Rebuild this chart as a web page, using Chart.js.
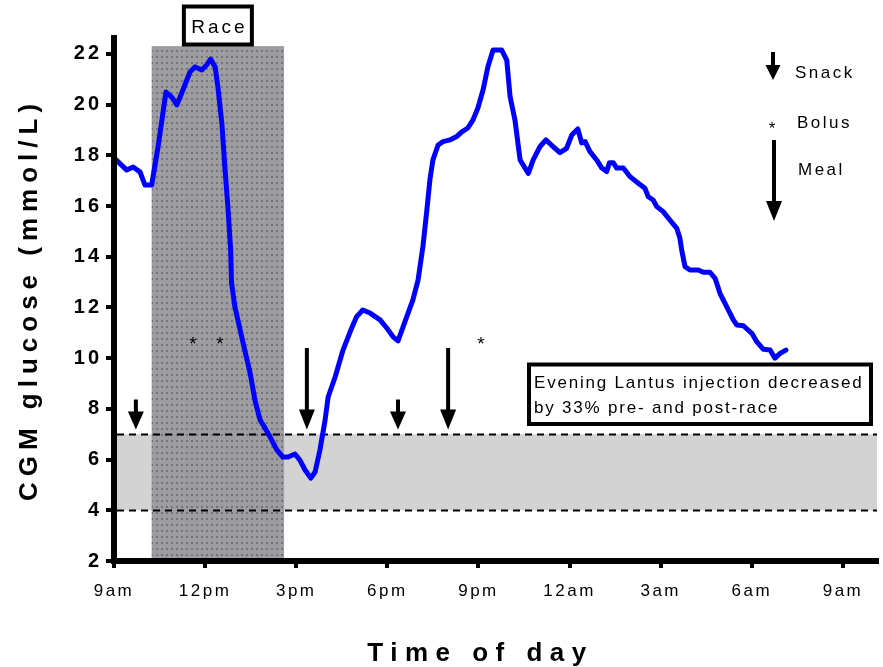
<!DOCTYPE html>
<html><head><meta charset="utf-8">
<script src="https://cdn.jsdelivr.net/npm/chart.js@4"></script>
<style>html,body{margin:0;padding:0;background:#fff}#wrap{width:883px;height:667px}</style>
</head><body><div id="wrap"><canvas id="c" width="883" height="667"></canvas></div>
<script>
// hours after 9am
const hours = [0,0.42,0.63,0.86,1.02,1.24,1.45,1.71,1.90,2.07,2.27,2.50,2.67,2.89,3.05,3.18,3.33,3.42,3.55,3.65,3.75,3.84,3.87,3.98,4.25,4.48,4.64,4.81,4.97,5.14,5.36,5.56,5.73,5.96,6.12,6.29,6.48,6.62,6.78,6.95,7.05,7.28,7.54,7.77,7.99,8.19,8.43,8.76,8.98,9.19,9.35,9.64,9.84,10.01,10.17,10.29,10.40,10.50,10.67,10.83,11.06,11.28,11.45,11.65,11.82,11.98,12.15,12.31,12.48,12.76,12.93,13.04,13.20,13.37,13.47,13.64,13.80,14.02,14.22,14.46,14.68,14.90,15.07,15.27,15.40,15.51,15.67,15.89,16.06,16.22,16.31,16.44,16.55,16.77,16.99,17.26,17.48,17.59,17.75,17.87,18.08,18.30,18.53,18.63,18.69,18.80,18.96,19.24,19.40,19.62,19.79,19.95,20.17,20.39,20.50,20.72,21.00,21.16,21.38,21.60,21.76,21.93,22.12];
// CGM glucose (mmol/L)
const glucose = [17.9,17.42,17.54,17.34,16.83,16.83,18.33,20.5,20.3,19.99,20.58,21.29,21.49,21.37,21.57,21.8,21.49,20.7,19.28,17.54,15.96,14.27,12.97,12.03,10.6,9.42,8.35,7.56,7.25,6.89,6.38,6.1,6.1,6.22,5.98,5.59,5.27,5.51,6.38,7.56,8.47,9.26,10.32,11.03,11.64,11.9,11.78,11.51,11.19,10.84,10.68,11.64,12.3,13.08,14.4,15.73,17.03,17.82,18.41,18.54,18.61,18.74,18.93,19.08,19.4,19.87,20.58,21.5,22.16,22.16,21.76,20.32,19.4,17.82,17.62,17.29,17.82,18.34,18.61,18.34,18.11,18.28,18.8,19.04,18.49,18.54,18.15,17.82,17.5,17.36,17.71,17.71,17.5,17.5,17.16,16.9,16.7,16.37,16.24,15.98,15.78,15.45,15.12,14.74,14.27,13.61,13.48,13.48,13.39,13.39,13.15,12.56,12.03,11.51,11.31,11.28,10.98,10.65,10.35,10.32,10.0,10.19,10.32];
const xTickValues = [0,3,6,9,12,15,18,21,24];
const xTickLabels = ['9am','12pm','3pm','6pm','9pm','12am','3am','6am','9am'];
const yTickValues = [2,4,6,8,10,12,14,16,18,20,22];
const raceStart = 1.24, raceEnd = 5.6, raceTop = 22.31;
const targetLow = 4, targetHigh = 7;
const snackTimes = [0.72, 9.35];
const mealTimes = [6.35, 11.0];
const bolusTimes = [2.6, 3.49, 12.08];
const bolusLevel = 10.72;
const arrowTip = 7.19, snackTop = 8.37, mealTop = 10.4;

const FONT = '"Liberation Sans", Arial, sans-serif';

function makePattern(ctx){
  const p = document.createElement('canvas'); p.width = 5; p.height = 6;
  const c = p.getContext('2d');
  c.fillStyle = '#9d9da1'; c.fillRect(0,0,5,6);
  c.fillStyle = '#74747a'; c.fillRect(1,2,2,2);
  return ctx.createPattern(p,'repeat');
}
function arrow(ctx, x, yTop, yTip, headH, headW, shaftW){
  ctx.save();
  ctx.fillStyle = '#000';
  ctx.fillRect(x - shaftW/2, yTop, shaftW, yTip - yTop - headH + 1);
  ctx.beginPath();
  ctx.moveTo(x - headW/2, yTip - headH);
  ctx.lineTo(x + headW/2, yTip - headH);
  ctx.lineTo(x, yTip);
  ctx.closePath(); ctx.fill();
  ctx.restore();
}
function text(ctx, s, x, y, font, sp, align){
  ctx.save();
  ctx.font = font; ctx.letterSpacing = sp; ctx.fillStyle = '#000';
  ctx.textAlign = align || 'left'; ctx.textBaseline = 'middle';
  ctx.fillText(s, x, y);
  ctx.restore();
}

const spacing = { x: {ticks: '2.5px', title: '7.5px', shift: -15}, y: {ticks: '3px', title: '6px', shift: 0} };

const decor = {
  id: 'decor',
  beforeDraw(chart){
    for (const id of Object.keys(spacing)) {
      const s = chart.scales[id];
      if (!s || s.__sp) continue;
      s.__sp = true;
      const dl = s.drawLabels, dt = s.drawTitle, cfg = spacing[id];
      s.drawLabels = function(a){ const c = this.ctx; c.save(); c.letterSpacing = cfg.ticks; dl.call(this, a); c.restore(); };
      s.drawTitle = function(){ const c = this.ctx; c.save(); c.letterSpacing = cfg.title; c.translate(cfg.shift, 0); dt.call(this); c.restore(); };
    }
  },
  beforeDatasetsDraw(chart){
    const {ctx, chartArea: a, scales: {x, y}} = chart;
    ctx.save();
    ctx.fillStyle = '#d3d3d3';
    ctx.fillRect(a.left, y.getPixelForValue(targetHigh), a.right - a.left, y.getPixelForValue(targetLow) - y.getPixelForValue(targetHigh));
    const rx1 = x.getPixelForValue(raceStart), rx2 = x.getPixelForValue(raceEnd), ry = y.getPixelForValue(raceTop);
    ctx.fillStyle = makePattern(ctx);
    ctx.fillRect(rx1, ry, rx2 - rx1, a.bottom - ry);
    ctx.strokeStyle = '#000'; ctx.lineWidth = 2; ctx.setLineDash([7,5]);
    for (const v of [targetLow, targetHigh]) {
      const py = Math.round(y.getPixelForValue(v)) + 0.5;
      ctx.beginPath(); ctx.moveTo(a.left + 3, py); ctx.lineTo(a.right, py); ctx.stroke();
    }
    ctx.restore();
  },
  afterDatasetsDraw(chart){
    const {ctx, scales: {x, y}} = chart;
    const tip = y.getPixelForValue(arrowTip);
    for (const t of snackTimes) arrow(ctx, x.getPixelForValue(t), y.getPixelForValue(snackTop), tip, 18, 16, 4);
    for (const t of mealTimes) arrow(ctx, x.getPixelForValue(t), y.getPixelForValue(mealTop), tip, 20, 16, 4);
    for (const t of bolusTimes) text(ctx, '*', x.getPixelForValue(t), y.getPixelForValue(bolusLevel) + 5, '19px ' + FONT, '0px', 'center');
    const rc = x.getPixelForValue((raceStart + raceEnd) / 2);
    ctx.save();
    ctx.fillStyle = '#fff'; ctx.fillRect(rc - 34, 6, 68, 39);
    ctx.strokeStyle = '#000'; ctx.lineWidth = 4; ctx.strokeRect(rc - 34, 6.5, 68, 38);
    ctx.restore();
    text(ctx, 'Race', rc + 1.5, 28, '19px ' + FONT, '3px', 'center');
    ctx.save();
    ctx.fillStyle = '#fff'; ctx.fillRect(529, 364, 342, 60);
    ctx.strokeStyle = '#000'; ctx.lineWidth = 4; ctx.strokeRect(529, 364.5, 342, 59.5);
    ctx.restore();
    text(ctx, 'Evening Lantus injection decreased', 534, 383, '17px ' + FONT, '1.8px');
    text(ctx, 'by 33% pre- and post-race', 534, 408, '17px ' + FONT, '1.8px');
    arrow(ctx, 773, 52, 80, 15, 15, 4);
    text(ctx, 'Snack', 795, 73, '17px ' + FONT, '2.5px');
    text(ctx, '*', 772, 129, '17px ' + FONT, '0px', 'center');
    text(ctx, 'Bolus', 797, 123, '17px ' + FONT, '2.5px');
    arrow(ctx, 774, 140, 221, 20, 16, 4);
    text(ctx, 'Meal', 798, 170, '17px ' + FONT, '2.5px');
  }
};

new Chart(document.getElementById('c'), {
  type: 'line',
  data: { datasets: [{
    data: hours.map((h, i) => ({x: h, y: glucose[i]})),
    borderColor: '#0000ff', borderWidth: 5, pointRadius: 0, tension: 0,
    borderJoinStyle: 'round', borderCapStyle: 'round', fill: false, clip: false
  }]},
  options: {
    responsive: false, animation: false, devicePixelRatio: 1,
    layout: { padding: { left: 0, right: 6, top: 38, bottom: 0 } },
    plugins: { legend: { display: false }, tooltip: { enabled: false } },
    scales: {
      x: {
        type: 'linear', min: 0, max: 25.12,
        afterBuildTicks: s => { s.ticks = xTickValues.map(v => ({value: v})); },
        afterFit: s => { s.height = 106; },
        ticks: { autoSkip: false, maxRotation: 0, padding: 13, color: '#000',
          font: { family: FONT, size: 17 },
          callback: (v) => xTickLabels[xTickValues.indexOf(v)] },
        grid: { drawOnChartArea: false, drawTicks: true, tickLength: 7, tickWidth: 4, tickColor: '#000', lineWidth: 4, color: '#000' },
        border: { display: true, color: '#000', width: 6, z: 1 },
        title: { display: true, text: 'Time of day', color: '#000',
          font: { family: FONT, size: 26, weight: 'bold', lineHeight: 1 }, padding: { top: 0, bottom: 0 } }
      },
      y: {
        type: 'linear', min: 2, max: 22.63,
        afterBuildTicks: s => { s.ticks = yTickValues.map(v => ({value: v})); },
        afterFit: s => { s.width = 114; },
        ticks: { padding: 4, color: '#000', font: { family: FONT, size: 20, weight: 'bold' },
          callback: v => String(v) },
        grid: { drawOnChartArea: false, drawTicks: true, tickLength: 8, tickWidth: 4, tickColor: '#000', lineWidth: 4, color: '#000' },
        border: { display: true, color: '#000', width: 6, z: 1 },
        title: { display: true, text: 'CGM glucose (mmol/L)', color: '#000',
          font: { family: FONT, size: 26, weight: 'bold', lineHeight: 1 }, padding: { top: 17, bottom: 0 } }
      }
    }
  },
  plugins: [decor]
});
</script></body></html>
